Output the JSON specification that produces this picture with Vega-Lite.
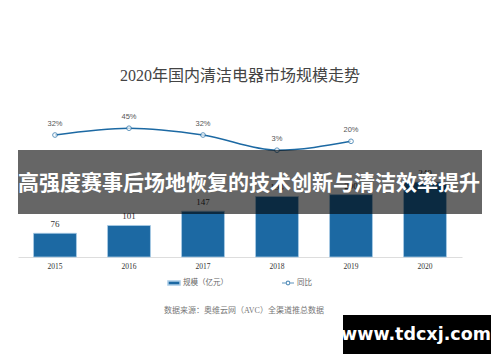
{
  "$schema": "https://vega.github.io/schema/vega-lite/v6.json",
  "padding": {"left": 18, "top": 68, "right": 0, "bottom": 0},
  "background": "white",
  "width": 444,
  "height": 156,
  "title": {
    "text": "2020年国内清洁电器市场规模走势",
    "fontSize": 16,
    "fontWeight": "normal",
    "color": "#444444",
    "font": "Liberation Serif, Noto Sans CJK SC",
    "offset": 17
  },
  "data": {
    "values": [
      {"year": "2015", "size": 76, "yoy": 0.32},
      {"year": "2016", "size": 101, "yoy": 0.45},
      {"year": "2017", "size": 147, "yoy": 0.32},
      {"year": "2018", "size": 194, "yoy": 0.03},
      {"year": "2019", "size": 200, "yoy": 0.20},
      {"year": "2020", "size": 240, "yoy": null}
    ]
  },
  "layer": [
    {
      "layer": [
        {
          "mark": {"type": "bar", "stroke": "#a9cbe6", "strokeWidth": 0.8},
          "encoding": {
            "x": {"field": "year", "type": "nominal", "scale": {"paddingInner": 0.42, "paddingOuter": 0.21}, "axis": {"title": null, "labelAngle": 0}},
            "y": {"field": "size", "type": "quantitative", "scale": {"domain": [0, 500], "nice": false}, "axis": null},
            "fill": {
              "datum": "规模（亿元）",
              "scale": {"range": ["#1c69a3"]},
              "legend": {
                "title": null,
                "orient": "none",
                "legendX": 149,
                "legendY": 175,
                "direction": "horizontal",
                "symbolType": "M-1,-0.33H1V0.33H-1Z",
                "symbolSize": 144,
                "labelOffset": 2,
                "labelFontSize": 7.5,
                "labelColor": "#666666",
                "labelFont": "Liberation Serif, Noto Sans CJK SC"
              }
            }
          }
        },
        {
          "mark": {"type": "text", "dy": -9, "fontSize": 9, "color": "#333333", "font": "Liberation Serif"},
          "encoding": {
            "x": {"field": "year", "type": "nominal"},
            "y": {"field": "size", "type": "quantitative"},
            "text": {"field": "size", "type": "quantitative"}
          }
        }
      ]
    },
    {
      "transform": [{"filter": "datum.yoy != null"}],
      "layer": [
        {
          "mark": {"type": "line", "interpolate": "monotone", "strokeWidth": 1.5},
          "encoding": {
            "x": {"field": "year", "type": "nominal"},
            "y": {"field": "yoy", "type": "quantitative", "scale": {"domain": [-2.01, 0.97], "nice": false, "zero": false}, "axis": null},
            "stroke": {
              "datum": "同比",
              "scale": {"range": ["#1c69a3"]},
              "legend": {
                "title": null,
                "orient": "none",
                "legendX": 263,
                "legendY": 175,
                "direction": "horizontal",
                "symbolType": "M-1,0H-0.3M0.3,0H1M0.3,0A0.3,0.3,0,1,1,-0.3,0A0.3,0.3,0,1,1,0.3,0",
                "symbolSize": 144,
                "symbolStrokeWidth": 1.2,
                "symbolFillColor": "white",
                "labelOffset": 2,
                "labelFontSize": 7.5,
                "labelColor": "#666666",
                "labelFont": "Liberation Serif, Noto Sans CJK SC"
              }
            }
          }
        },
        {
          "mark": {"type": "point", "shape": "circle", "size": 22, "filled": true, "fill": "white", "strokeWidth": 1},
          "encoding": {
            "x": {"field": "year", "type": "nominal"},
            "y": {"field": "yoy", "type": "quantitative"},
            "stroke": {"datum": "同比"}
          }
        },
        {
          "mark": {"type": "text", "dy": -11, "fontSize": 7.5, "color": "#555555", "font": "Liberation Sans"},
          "encoding": {
            "x": {"field": "year", "type": "nominal"},
            "y": {"field": "yoy", "type": "quantitative"},
            "text": {"field": "yoy", "type": "quantitative", "format": ".0%"}
          }
        }
      ]
    },
    {
      "data": {"values": [{"banner": "高强度赛事后场地恢复的技术创新与清洁效率提升", "mark": "www.tdcxj.com", "source": "数据来源：奥维云网（AVC）全渠道推总数据"}]},
      "layer": [
        {
          "mark": {"type": "text", "color": "#777777", "fontSize": 8, "font": "Liberation Serif, Noto Sans CJK SC", "align": "center", "baseline": "middle"},
          "encoding": {"x": {"value": 226}, "y": {"value": 210}, "text": {"field": "source"}}
        },
        {
          "mark": {"type": "rect", "color": "black", "opacity": 0.6},
          "encoding": {"x": {"value": 0}, "x2": {"value": 464}, "y": {"value": 49}, "y2": {"value": 113}}
        },
        {
          "mark": {"type": "text", "color": "white", "fontSize": 21, "fontWeight": "bold", "font": "Noto Sans CJK SC", "align": "center", "baseline": "middle"},
          "encoding": {"x": {"value": 231}, "y": {"value": 83}, "text": {"field": "banner"}}
        },
        {
          "mark": {"type": "rect", "color": "black", "opacity": 1},
          "encoding": {"x": {"value": 325}, "x2": {"value": 473}, "y": {"value": 214}, "y2": {"value": 253}}
        },
        {
          "mark": {"type": "text", "color": "white", "fontSize": 17.5, "fontWeight": "bold", "font": "DejaVu Sans", "align": "center", "baseline": "middle"},
          "encoding": {"x": {"value": 398}, "y": {"value": 234}, "text": {"field": "mark"}}
        }
      ]
    }
  ],
  "resolve": {"scale": {"y": "independent"}},
  "config": {
    "view": {"stroke": null},
    "axisX": {
      "domainColor": "#dddddd",
      "ticks": false,
      "grid": false,
      "labelFont": "Liberation Serif",
      "labelFontSize": 7.5,
      "labelColor": "#333333",
      "labelPadding": 5
    }
  }
}
